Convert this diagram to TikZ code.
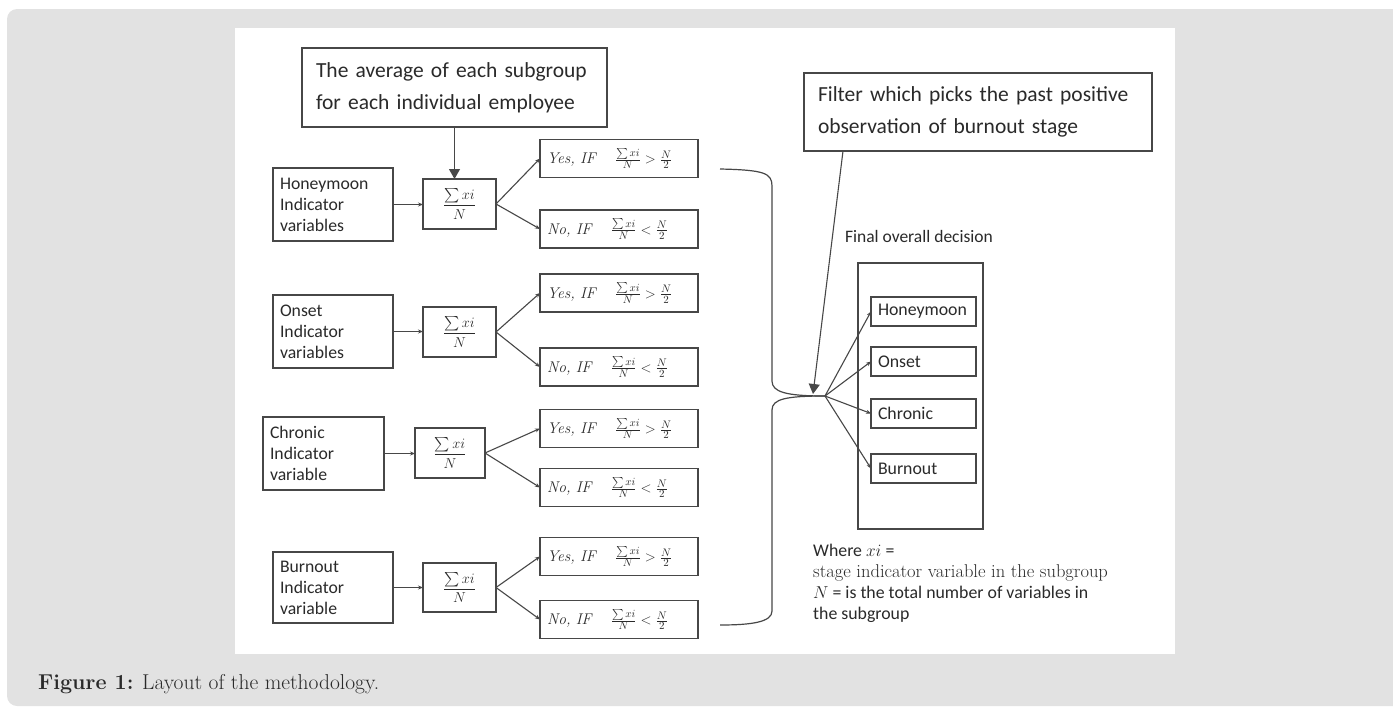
\documentclass[tikz,border=0pt]{standalone}
\usepackage{fontspec}
\usepackage{amsmath}
\newfontfamily\carl{Carlito}
\usetikzlibrary{arrows.meta}
\definecolor{panel}{HTML}{E2E2E2}
\definecolor{ln}{HTML}{474747}
\definecolor{txt}{HTML}{2A2A2A}
\newcommand{\yesc}{\textit{Yes, IF}\hspace{18pt}$\frac{\sum xi}{N} > \frac{N}{2}$}
\newcommand{\noc}{\textit{No, IF}\hspace{18pt}$\frac{\sum xi}{N} < \frac{N}{2}$}
\begin{document}
\begin{tikzpicture}[x=1pt,y=-1pt,
  box/.style={draw=ln, line width=1.2pt, inner sep=0pt, outer sep=0pt, text=txt},
  bigtext/.style={box, font=\carl\fontsize{21.5}{32}\selectfont, align=left, inner xsep=14pt},
  leftbox/.style={box, font=\carl\fontsize{17.7}{21}\selectfont, align=left, inner xsep=7pt, text width=106pt, minimum height=73pt},
  sumbox/.style={box, font=\fontsize{15.5}{18}\selectfont, minimum width=73pt, minimum height=50pt},
  ynbox/.style={box, font=\fontsize{15.5}{18}\selectfont, align=left, inner xsep=7pt, text width=144pt, minimum height=38pt},
  stagebox/.style={box, font=\carl\fontsize{17.8}{20}\selectfont, align=left, inner xsep=7pt, text width=91pt, minimum height=29pt},
  con/.style={draw=ln, line width=1.1pt, -{Stealth[length=5pt,width=4pt]}},
  bigarr/.style={draw=ln, line width=1.1pt, -{Triangle[length=10pt,width=11pt]}},
  plain/.style={draw=ln, line width=1.2pt}
]
\useasboundingbox (0,0) rectangle (1393,707);
\fill[panel, rounded corners=10pt] (7,9) rectangle (1420,706);
\fill[white] (235,28) rectangle (1175,654);

% top boxes
\node[bigtext, minimum width=305pt, minimum height=79pt, text width=277pt] (avg) at (454.5,87.5)
  {The average of each subgroup\\for each individual employee};
\node[bigtext, minimum width=348pt, minimum height=78pt, text width=320pt] (filter) at (978,112)
  {Filter which picks the past positive\\observation of burnout stage};

% Left indicator boxes
\node[leftbox] (h1) at (333,204.5) {Honeymoon\\Indicator\\variables};
\node[leftbox] (o1) at (333,331.5) {Onset\\Indicator\\variables};
\node[leftbox, text width=107pt] (c1) at (323.5,453.5) {Chronic\\Indicator\\variable};
\node[leftbox, minimum height=71pt] (b1) at (333,587.5) {Burnout\\Indicator\\variable};

% Sum boxes
\node[sumbox] (hs) at (459.5,204) {$\dfrac{\sum xi}{N}$};
\node[sumbox] (os) at (459.5,332) {$\dfrac{\sum xi}{N}$};
\node[sumbox, minimum width=70pt] (cs) at (450,453) {$\dfrac{\sum xi}{N}$};
\node[sumbox, minimum height=49pt] (bs) at (459.5,587.5) {$\dfrac{\sum xi}{N}$};

% Yes / No boxes
\node[ynbox] (hy) at (619,158.5) {\yesc};
\node[ynbox] (hn) at (619,229) {\noc};
\node[ynbox] (oy) at (619,293) {\yesc};
\node[ynbox] (on) at (619,367) {\noc};
\node[ynbox] (cy) at (619,428.5) {\yesc};
\node[ynbox] (cn) at (619,487.5) {\noc};
\node[ynbox] (by) at (619,556.5) {\yesc};
\node[ynbox] (bn) at (619,619.5) {\noc};

% connectors left part
\draw[bigarr] (avg.south) -- (avg.south |- hs.north);
\foreach \a/\s/\y/\n in {h1/hs/hy/hn, o1/os/oy/on, c1/cs/cy/cn, b1/bs/by/bn}{
  \draw[con] (\a.east) -- (\a.east -| \s.west);
  \draw[con] (\s.east) -- (\y.west);
  \draw[con] (\s.east) -- (\n.west);
}

% final decision box
\node[box, minimum width=125pt, minimum height=266pt] (final) at (920.5,396) {};
\node[stagebox] (fh) at (923.5,311.5) {Honeymoon};
\node[stagebox] (fo) at (923.5,361.5) {Onset};
\node[stagebox] (fc) at (923.5,413.5) {Chronic};
\node[stagebox] (fb) at (923.5,468.5) {Burnout};
\node[font=\carl\fontsize{17.5}{18}\selectfont, text=txt, inner sep=0pt] (fod) at (919,236) {Final overall decision};

% brace
\coordinate (bt) at (720,169);
\coordinate (bb) at (720,625);
\coordinate (fan) at (825,396);
\coordinate (tip) at (813,394);
\draw[plain] (bt) .. controls (764,170) and (772,173) .. (772,186) -- (772,381)
  .. controls (772,392) and (786,396) .. (fan);
\draw[plain] (fan) .. controls (786,396) and (772,399) .. (772,410) -- (772,611)
  .. controls (772,622) and (752,625) .. (bb);

\draw[bigarr] ([xshift=39pt]filter.south west) -- (tip);
\foreach \t in {fh,fo,fc,fb}{\draw[con] (fan) -- (\t.west);}

% legend
\node[anchor=north west, inner sep=0pt, align=left, text=txt, font=\carl\fontsize{17.8}{21}\selectfont] (where) at (813,544)
  {Where $xi$ =\\ {\rmfamily\fontsize{18.5}{21}\selectfont stage indicator variable in the subgroup}\\$N$ = is the total number of variables in\\the subgroup};

% caption
\node[anchor=west, inner sep=0pt, text=txt, font=\fontsize{21.5}{24}\selectfont] (cap) at (38,684)
  {\textbf{Figure 1:} Layout of the methodology.};
\end{tikzpicture}
\end{document}
